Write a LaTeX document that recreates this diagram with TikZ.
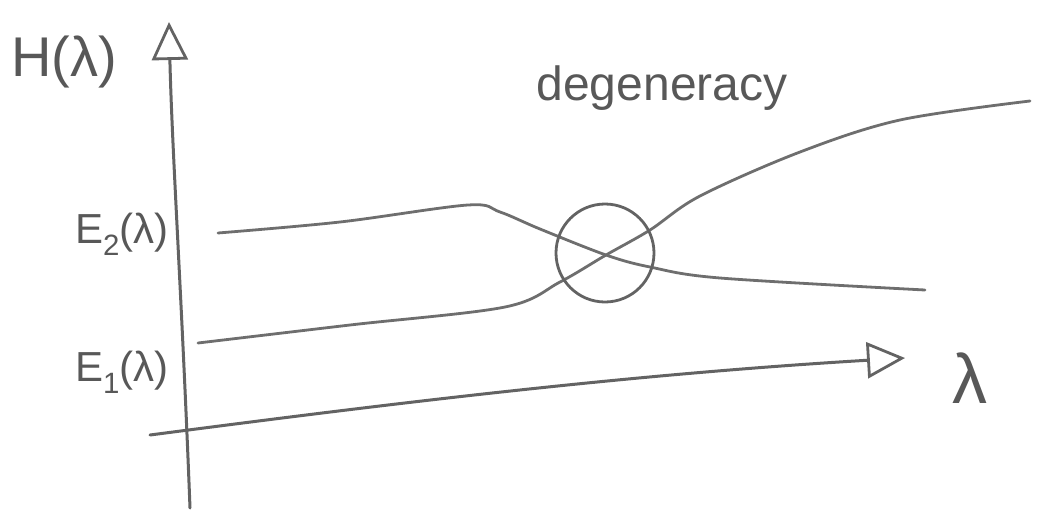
\documentclass[tikz,border=0pt]{standalone}
\usepackage{fontspec}
\setmainfont{Liberation Sans}
\usepackage{xcolor}
\usetikzlibrary{arrows.meta, positioning}

\definecolor{pencil}{HTML}{6E6E6E}

\begin{document}
\begin{tikzpicture}[
  x=1pt, y=-1pt,
  axis/.style={line width=3pt, draw=pencil!90!black, line cap=round},
  level/.style={line width=2.8pt, draw=pencil, line cap=round},
  hand/.style={text=pencil!80!black, inner sep=0pt},
  open_arrow/.style={-{Triangle[open, length=38pt, width=36pt, line width=2.8pt]}}
]
\useasboundingbox (0,0) rectangle (1041,517);

% Axes
\coordinate (yfoot) at (190,508);
\coordinate (ytip) at (169,22);
\coordinate (xfoot) at (150,435);
\coordinate (xtip) at (905,358);
\draw [axis, open_arrow] (yfoot) .. controls (182,300) and (172,150) .. (ytip);
\draw [axis, open_arrow] (xfoot) .. controls (380,405) and (620,375) .. (xtip);

% Labels
\node (hlab) [hand, font=\fontsize{56}{60}\selectfont] at (64,62) {H(λ)};
\node (elev2) [hand, font=\fontsize{42}{46}\selectfont] at (122,234) {E\textsubscript{2}(λ)};
\node (elev1) [hand, font=\fontsize{42}{46}\selectfont] at (122,372) {E\textsubscript{1}(λ)};
\node (lam) [hand, font=\fontsize{70}{74}\selectfont] at (970,378) {λ};
\node (degen) [hand, font=\fontsize{48}{52}\selectfont] at (662,88) {degeneracy};

% Energy levels
\draw [level] plot[smooth, tension=0.55] coordinates {(218,233) (340,222) (468,205) (500,212) (540,229) (606,255) (650,267) (720,278) (925,290)};
\draw [level] plot[smooth, tension=0.55] coordinates {(198,343) (350,325) (505,307) (560,282) (606,255) (650,230) (700,196) (800,152) (900,120) (1030,101)};

% Avoided crossing marker
\node (cross) [circle, draw=pencil!90!black, line width=2.8pt, minimum size=98pt, inner sep=0pt] at (605,253) {};
\end{tikzpicture}
\end{document}
